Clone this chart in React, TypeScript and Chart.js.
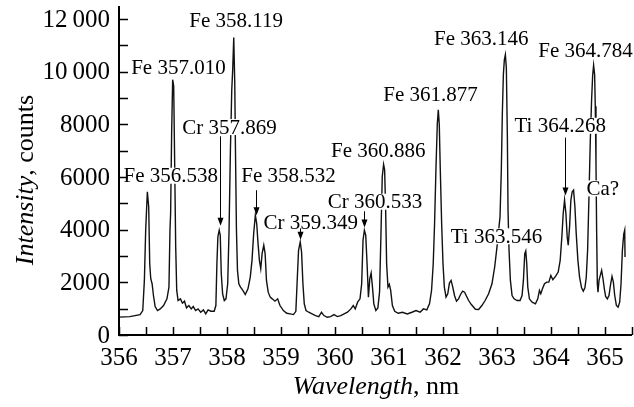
import React, { useEffect, useRef } from "react";
import { Chart, registerables } from "chart.js";

Chart.register(...registerables);

// Spectrum: wavelength (nm) and intensity (counts)
const wavelengths: number[] = [
  356.0, 356.2, 356.39, 356.44, 356.47, 356.494, 356.525, 356.55, 356.569, 356.588,
  356.613, 356.638, 356.669, 356.713, 356.763, 356.825, 356.888, 356.925, 356.944, 356.956,
  356.975, 356.994, 357.013, 357.031, 357.05, 357.069, 357.094, 357.138, 357.175, 357.213,
  357.25, 357.294, 357.338, 357.375, 357.419, 357.463, 357.513, 357.563, 357.606, 357.65,
  357.7, 357.763, 357.794, 357.813, 357.831, 357.856, 357.875, 357.894, 357.919, 357.95,
  357.981, 358.013, 358.038, 358.063, 358.088, 358.106, 358.125, 358.144, 358.156, 358.175,
  358.194, 358.219, 358.25, 358.294, 358.338, 358.388, 358.431, 358.463, 358.494, 358.525,
  358.55, 358.575, 358.6, 358.625, 358.65, 358.681, 358.706, 358.731, 358.763, 358.8,
  358.838, 358.888, 358.938, 358.981, 359.044, 359.106, 359.169, 359.231, 359.275, 359.3,
  359.325, 359.356, 359.381, 359.406, 359.431, 359.463, 359.513, 359.575, 359.638, 359.7,
  359.75, 359.794, 359.856, 359.919, 359.981, 360.044, 360.106, 360.169, 360.231, 360.294,
  360.338, 360.375, 360.419, 360.463, 360.494, 360.519, 360.544, 360.569, 360.594, 360.619,
  360.644, 360.669, 360.694, 360.719, 360.756, 360.794, 360.825, 360.85, 360.875, 360.9,
  360.919, 360.938, 360.956, 360.981, 361.006, 361.031, 361.063, 361.106, 361.169, 361.25,
  361.338, 361.425, 361.5, 361.575, 361.638, 361.7, 361.75, 361.788, 361.819, 361.844,
  361.869, 361.894, 361.913, 361.931, 361.95, 361.975, 362.0, 362.025, 362.056, 362.088,
  362.119, 362.15, 362.181, 362.213, 362.25, 362.288, 362.325, 362.363, 362.4, 362.438,
  362.475, 362.525, 362.6, 362.66, 362.72, 362.78, 362.845, 362.907, 362.957, 363.0,
  363.031, 363.056, 363.08, 363.099, 363.118, 363.136, 363.155, 363.173, 363.192, 363.204,
  363.223, 363.248, 363.279, 363.316, 363.372, 363.427, 363.464, 363.489, 363.514, 363.533,
  363.551, 363.57, 363.6, 363.65, 363.712, 363.755, 363.786, 363.811, 363.842, 363.879,
  363.923, 363.96, 363.997, 364.034, 364.084, 364.133, 364.17, 364.201, 364.226, 364.251,
  364.276, 364.3, 364.319, 364.344, 364.368, 364.393, 364.418, 364.443, 364.467, 364.498,
  364.529, 364.566, 364.598, 364.628, 364.653, 364.678, 364.703, 364.728, 364.752, 364.771,
  364.789, 364.808, 364.82, 364.833, 364.845, 364.858, 364.87, 364.889, 364.913, 364.938,
  364.963, 364.988, 365.012, 365.043, 365.074, 365.105, 365.13, 365.155, 365.18, 365.211,
  365.242, 365.272, 365.297, 365.322, 365.347, 365.365, 365.371,
];

const intensities: number[] = [
  680, 700, 776, 929, 2074, 3982, 5445, 4873, 2710, 2137,
  1947, 1501, 1081, 929, 992, 1120, 1374, 1819, 3982, 4618,
  7700, 9700, 9450, 6527, 3346, 1692, 1310, 1374, 1209, 1285,
  1031, 1120, 992, 1081, 929, 992, 865, 954, 802, 954,
  903, 903, 1120, 2710, 3728, 3982, 3791, 2328, 1565, 1310,
  1374, 1947, 3982, 7000, 9300, 10100, 11300, 9550, 7163, 3982,
  2455, 1947, 1819, 1692, 1539, 1756, 2201, 2837, 3855, 4555,
  4237, 3473, 2837, 2519, 3092, 3410, 3092, 2074, 1628, 1438,
  1374, 1285, 1374, 1120, 929, 827, 802, 776, 900, 2074,
  3219, 3537, 3155, 1947, 1183, 929, 865, 802, 738, 700,
  865, 738, 674, 700, 776, 700, 738, 802, 865, 992,
  1120, 992, 1247, 1374, 1947, 3600, 3982, 3791, 2710, 1438,
  2137, 2354, 1819, 1183, 929, 1031, 1628, 3728, 6018, 6480,
  6272, 4746, 2710, 1819, 1921, 1692, 1120, 903, 827, 865,
  802, 865, 929, 865, 992, 954, 1183, 1692, 2710, 4237,
  6272, 8000, 8560, 8000, 6272, 4237, 2710, 1819, 1438, 1565,
  1972, 2074, 1819, 1501, 1285, 1374, 1539, 1667, 1628, 1463,
  1310, 1158, 980, 970, 1120, 1310, 1565, 1947, 2583, 3346,
  3982, 4491, 6272, 8435, 9900, 10450, 10650, 10150, 7545, 4746,
  3219, 2074, 1501, 1374, 1310, 1310, 1501, 2074, 3092, 3193,
  2710, 1819, 1374, 1247, 1183, 1374, 1692, 1565, 1756, 1947,
  2010, 2010, 2265, 2099, 2226, 2392, 2837, 3728, 4618, 5127,
  4618, 3728, 3410, 4109, 5127, 5445, 5509, 4873, 3855, 2837,
  2201, 1794, 1667, 1794, 2201, 3219, 5254, 7417, 8944, 9850,
  10250, 9900, 8690, 6527, 3982, 1947, 1628, 2074, 2265, 2455,
  2137, 1756, 1463, 1374, 1501, 1947, 2226, 2010, 1501, 1120,
  1056, 1247, 1947, 3219, 3830, 3982, 2964,
];

// Axis ticks
const xTicks: number[] = [356, 356.5, 357, 357.5, 358, 358.5, 359, 359.5, 360, 360.5, 361, 361.5, 362, 362.5, 363, 363.5, 364, 364.5, 365, 365.5];
const xTickLabels: string[] = ["356", "", "357", "", "358", "", "359", "", "360", "", "361", "", "362", "", "363", "", "364", "", "365", ""];
const yTicks: number[] = [0, 1000, 2000, 3000, 4000, 5000, 6000, 7000, 8000, 9000, 10000, 11000, 12000];
const yTickLabels: string[] = ["0", "", "2000", "", "4000", "", "6000", "", "8000", "", "10\u2009000", "", "12\u2009000"];

// Line annotations
const annText: string[] = [
  "Fe 356.538", "Fe 357.010", "Fe 358.119", "Cr 357.869", "Fe 358.532", "Cr 359.349", "Cr 360.533",
  "Fe 360.886", "Fe 361.877", "Fe 363.146", "Fe 364.784", "Ti 364.268", "Ti 363.546", "Ca?",
];
const annX: number[] = [356.96, 357.1, 358.17, 358.044, 359.14, 359.55, 360.74, 360.8, 361.77, 362.71, 364.64, 364.17, 362.99, 364.96];
const annY: number[] = [6050, 10150, 11950, 7900, 6050, 4262, 5064, 7010, 9150, 11250, 10800, 7950, 3750, 5570];
const arrowX: (number | null)[] = [null, null, null, 357.869, 358.532, 359.349, 360.53, null, null, null, null, 364.25, null, null];
const arrowFrom: (number | null)[] = [null, null, null, 7550, 5500, 4050, 4700, null, null, null, null, 7500, null, null];
const arrowTo: (number | null)[] = [null, null, null, 4150, 4550, 3620, 4080, null, null, null, null, 5300, null, null];

const FAM = '"Liberation Serif"';

function drawOverlay(chart: any) {
  const ctx: CanvasRenderingContext2D = chart.ctx;
  const xs = chart.scales.x;
  const ys = chart.scales.y;
  const area = chart.chartArea;
  ctx.save();

  // annotations
  ctx.font = "21px " + FAM;
  ctx.textAlign = "center";
  ctx.textBaseline = "middle";
  for (let i = 0; i < annText.length; i++) {
    const px = xs.getPixelForValue(annX[i]);
    const py = ys.getPixelForValue(annY[i]);
    const w = ctx.measureText(annText[i]).width;
    ctx.fillStyle = "#fff";
    ctx.fillRect(px - w / 2 - 1, py - 8, w + 2, 16);
    ctx.fillStyle = "#000";
    ctx.fillText(annText[i], px, py + 1);
  }
  ctx.strokeStyle = "#000";
  ctx.fillStyle = "#000";
  ctx.lineWidth = 1;
  for (let i = 0; i < arrowX.length; i++) {
    const ax = arrowX[i];
    if (ax === null) continue;
    const px = Math.round(xs.getPixelForValue(ax)) + 0.5;
    const y1 = ys.getPixelForValue(arrowFrom[i] as number);
    const y2 = ys.getPixelForValue(arrowTo[i] as number);
    ctx.beginPath();
    ctx.moveTo(px, y1);
    ctx.lineTo(px, y2 - 6);
    ctx.stroke();
    ctx.beginPath();
    ctx.moveTo(px - 3, y2 - 8);
    ctx.lineTo(px + 3, y2 - 8);
    ctx.lineTo(px, y2);
    ctx.closePath();
    ctx.fill();
  }

  // axes
  ctx.lineWidth = 2;
  ctx.beginPath();
  ctx.moveTo(area.left, area.top);
  ctx.lineTo(area.left, area.bottom);
  ctx.lineTo(area.right, area.bottom);
  ctx.stroke();

  // ticks (inside)
  ctx.lineWidth = 1.5;
  ctx.beginPath();
  for (const v of xTicks) {
    const px = Math.round(xs.getPixelForValue(v)) + 0.5;
    ctx.moveTo(px, area.bottom);
    ctx.lineTo(px, area.bottom - 8);
  }
  for (const v of yTicks) {
    const py = Math.round(ys.getPixelForValue(v)) + 0.5;
    ctx.moveTo(area.left, py);
    ctx.lineTo(area.left + 9, py);
  }
  ctx.stroke();

  // tick labels
  ctx.font = "25px " + FAM;
  ctx.textAlign = "center";
  ctx.textBaseline = "alphabetic";
  xTicks.forEach((v, i) => {
    if (!xTickLabels[i]) return;
    ctx.fillText(xTickLabels[i], xs.getPixelForValue(v), area.bottom + 30);
  });
  ctx.textAlign = "right";
  ctx.textBaseline = "middle";
  yTicks.forEach((v, i) => {
    if (!yTickLabels[i]) return;
    ctx.fillText(yTickLabels[i], area.left - 9, ys.getPixelForValue(v) + 1);
  });

  // axis titles: italic quantity, upright unit
  const drawMixed = (italic: string, normal: string, cx: number, cy: number) => {
    ctx.font = "italic 26px " + FAM;
    const w1 = ctx.measureText(italic).width;
    ctx.font = "26px " + FAM;
    const w2 = ctx.measureText(normal).width;
    const start = cx - (w1 + w2) / 2;
    ctx.textAlign = "left";
    ctx.font = "italic 26px " + FAM;
    ctx.fillText(italic, start, cy);
    ctx.font = "26px " + FAM;
    ctx.fillText(normal, start + w1, cy);
  };
  ctx.textBaseline = "alphabetic";
  drawMixed("Wavelength", ", nm", 376, 394);
  ctx.save();
  ctx.translate(33, 180);
  ctx.rotate(-Math.PI / 2);
  drawMixed("Intensity", ", counts", 0, 0);
  ctx.restore();

  ctx.restore();
}

const overlayPlugin = {
  id: "overlay",
  afterDraw(chart: any) {
    drawOverlay(chart);
  },
};

export default function App() {
  const canvasRef = useRef<HTMLCanvasElement | null>(null);

  useEffect(() => {
    if (!canvasRef.current) return;
    const points = wavelengths.map((w, i) => ({ x: w, y: intensities[i] }));
    const chart = new Chart(canvasRef.current, {
      type: "line",
      data: {
        datasets: [
          {
            data: points,
            borderColor: "#111",
            borderWidth: 1.4,
            pointRadius: 0,
            tension: 0,
            fill: false,
          },
        ],
      },
      options: {
        responsive: false,
        animation: false,
        devicePixelRatio: 1,
        layout: { padding: { left: 119, right: 2, top: 6, bottom: 72 } },
        plugins: { legend: { display: false }, tooltip: { enabled: false } },
        scales: {
          x: { type: "linear", min: 356, max: 365.5, display: false },
          y: { type: "linear", min: 0, max: 12500, display: false },
        },
      },
      plugins: [overlayPlugin],
    });
    return () => {
      chart.destroy();
    };
  }, []);

  return (
    <div style={{ position: "absolute", left: 0, top: 0, width: 634, height: 407, background: "#fff" }}>
      <canvas ref={canvasRef} width={634} height={407} />
    </div>
  );
}
